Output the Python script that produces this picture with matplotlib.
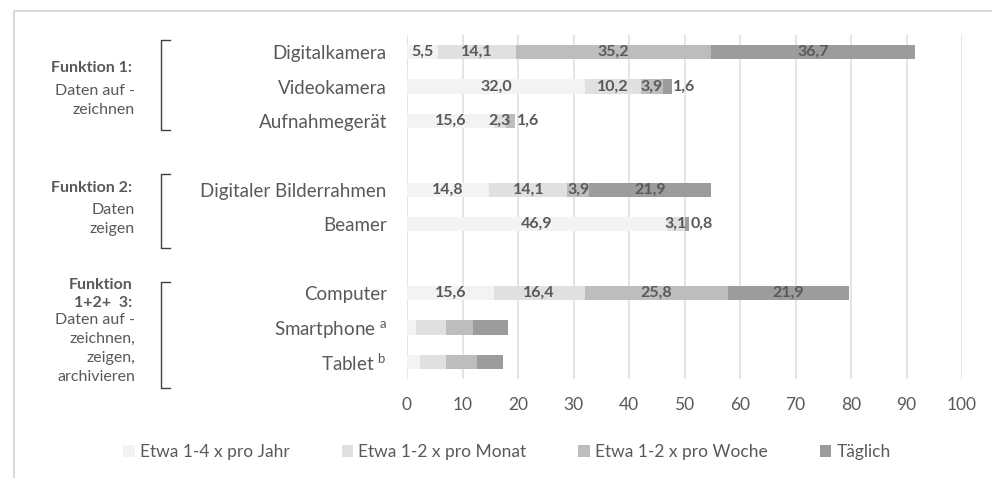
"""Nutzungshaeufigkeit digitaler Geraete, gestapelte Balken nach Funktion gruppiert."""
import matplotlib

matplotlib.use("Agg")
import matplotlib.pyplot as plt  # noqa: E402
import numpy as np  # noqa: E402
from matplotlib.lines import Line2D  # noqa: E402
from matplotlib.patches import Patch  # noqa: E402

plt.rcParams["font.family"] = ["Lato", "DejaVu Sans"]
plt.rcParams["mathtext.fontset"] = "custom"
plt.rcParams["mathtext.rm"] = "Lato"

devices = [
    "Digitalkamera", "Videokamera", "Aufnahmegerät", "",
    "Digitaler Bilderrahmen", "Beamer", "",
    "Computer", r"Smartphone $^{\mathrm{a}}$", r"Tablet $^{\mathrm{b}}$",
]
series_names = ["Etwa 1-4 x pro Jahr", "Etwa 1-2 x pro Monat", "Etwa 1-2 x pro Woche", "Täglich"]
per_year = [5.5, 32.0, 15.6, 0, 14.8, 46.9, 0, 15.6, 1.7, 2.3]
per_month = [14.1, 10.2, 2.3, 0, 14.1, 3.1, 0, 16.4, 5.4, 4.8]
per_week = [35.2, 3.9, 1.6, 0, 3.9, 0, 0, 25.8, 4.8, 5.5]
daily = [36.7, 1.6, 0, 0, 21.9, 0.8, 0, 21.9, 6.3, 4.7]
labelled = [True, True, True, False, True, True, False, True, False, False]
x_ticks = [0, 10, 20, 30, 40, 50, 60, 70, 80, 90, 100]

groups = [
    ("Funktion 1:", "Daten auf -\nzeichnen"),
    ("Funktion 2:", "Daten\nzeigen"),
    ("Funktion\n1+2+  3:", "Daten auf -\nzeichnen,\nzeigen,\narchivieren"),
]

colors = ["#f3f3f3", "#e0e0e0", "#bdbdbd", "#9c9c9c"]
text_grey = "#595959"
W, H = 992, 478


def fx(px):
    return px / W


def fy(py):
    return 1 - py / H


fig = plt.figure(figsize=(W / 100, H / 100), dpi=100)
ax = fig.add_axes([fx(407), fy(379), fx(962) - fx(407), fy(35) - fy(379)])

values = np.array([per_year, per_month, per_week, daily], dtype=float)
rows = np.arange(len(devices))
left = np.zeros(len(devices))
for k, (name, color) in enumerate(zip(series_names, colors)):
    ax.barh(rows, values[k], left=left, height=0.42, color=color, label=name, zorder=2)
    left += values[k]

# data labels, small trailing segments are written just right of the bar
totals = values.sum(axis=0)
for i in rows:
    if not labelled[i]:
        continue
    nonzero = [k for k in range(4) if values[k, i] > 0]
    start = 0.0
    for k in range(4):
        v = values[k, i]
        if v > 0:
            txt = f"{v:.1f}".replace(".", ",")
            if k == nonzero[-1] and v < 2:
                ax.text(totals[i] + 0.3, i, txt, ha="left", va="center",
                        fontsize=11.5, fontweight="bold", color=text_grey, zorder=3)
            else:
                ax.text(start + v / 2, i, txt, ha="center", va="center",
                        fontsize=11.5, fontweight="bold", color=text_grey, zorder=3)
        start += v

ax.set_xlim(0, 100)
ax.set_ylim(len(devices) - 0.5, -0.5)
ax.set_xticks(x_ticks)
ax.set_yticks(rows)
ax.set_yticklabels(devices)
ax.tick_params(axis="both", length=0, labelcolor=text_grey)
ax.tick_params(axis="y", pad=14.5, labelsize=13.5)
ax.tick_params(axis="x", pad=13, labelsize=12.5)
ax.grid(axis="x", color="#e2e2e2", linewidth=1.3, zorder=0)
for spine in ax.spines.values():
    spine.set_visible(False)

# group labels on the left with brackets
label_rows = [(68, 84), (188, 203), (294, 313)]
bracket_spans = [(40, 130), (174, 248), (282, 388)]
for (bold, plain), (y_bold, y_top), (y0, y1) in zip(groups, label_rows, bracket_spans):
    fig.text(fx(132), fy(y_bold), bold, ha="right", va="center", ma="right",
             fontsize=11.5, fontweight="bold", color=text_grey, linespacing=1.3)
    fig.text(fx(135), fy(y_top), plain, ha="right", va="top", ma="right",
             fontsize=11.5, color=text_grey, linespacing=1.45)
    fig.add_artist(Line2D([fx(170), fx(161), fx(161), fx(170)],
                          [fy(y0), fy(y0), fy(y1), fy(y1)],
                          color="#404040", linewidth=1.0))

# chart frame (top and left edge visible)
fig.add_artist(Line2D([fx(14), fx(14), fx(W)], [0, fy(11), fy(11)],
                      color="#d9d9d9", linewidth=1.5))

handles = [Patch(facecolor=c, edgecolor="none") for c in colors]
fig.legend(handles, series_names, loc="center", bbox_to_anchor=(fx(507), fy(452)),
           ncol=4, frameon=False, fontsize=12.5, handlelength=0.65, handleheight=0.65,
           handletextpad=0.3, columnspacing=3.0, labelcolor=text_grey)

fig.savefig("out.png", dpi=100)
plt.close(fig)
